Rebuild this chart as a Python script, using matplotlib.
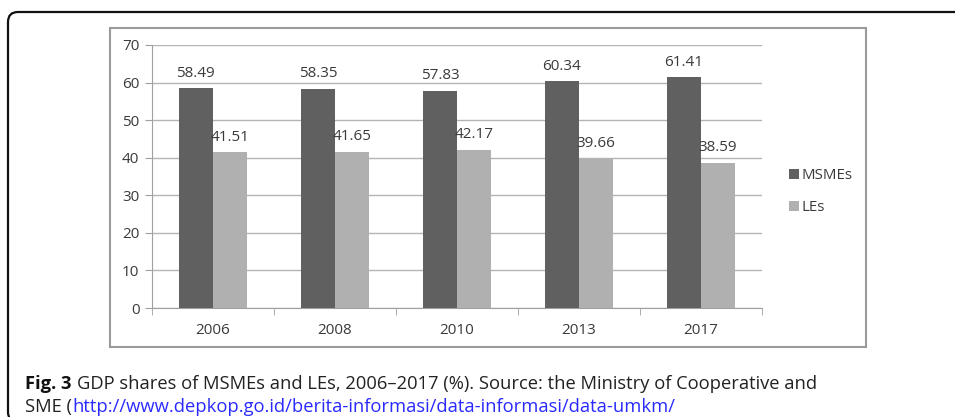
import numpy as np
import matplotlib as mpl
mpl.use('Agg')
import matplotlib.pyplot as plt
from matplotlib.patches import FancyBboxPatch, Rectangle

years = ['2006', '2008', '2010', '2013', '2017']
msmes = [58.49, 58.35, 57.83, 60.34, 61.41]
les = [41.51, 41.65, 42.17, 39.66, 38.59]
yticks = [0, 10, 20, 30, 40, 50, 60, 70]

plt.rcParams['font.family'] = ['Open Sans', 'DejaVu Sans']

fig = plt.figure(figsize=(9.55, 4.17), dpi=100)
W, H = 955.0, 417.0

# outer rounded box (runs off the right and bottom edge), in inches
fig.patches.append(FancyBboxPatch((0.08, -0.05), 12, 4.17 - 0.12 + 0.05,
                                  boxstyle='round,pad=0,rounding_size=0.1',
                                  transform=fig.dpi_scale_trans, fill=False,
                                  ec='#111111', lw=1.6))
# chart frame
fig.patches.append(Rectangle((110 / W, 1 - 347 / H), (866 - 110) / W, (347 - 28) / H,
                             transform=fig.transFigure, fill=False,
                             ec='#9a9a9a', lw=1.5))

ax = fig.add_axes([152 / W, 1 - 308 / H, (762 - 152) / W, (308 - 45) / H])
x = np.arange(len(years))
w = 0.28
b1 = ax.bar(x - w / 2, msmes, w, color='#606060', label='MSMEs', zorder=3)
b2 = ax.bar(x + w / 2, les, w, color='#b0b0b0', label='LEs', zorder=3)

for bars, vals in ((b1, msmes), (b2, les)):
    for r, v in zip(bars, vals):
        ax.text(r.get_x() + r.get_width() / 2, v + 2.0, f'{v:.2f}',
                ha='center', va='bottom', fontsize=11, color='#3a3a3a')

ax.set_xlim(-0.5, len(years) - 0.5)
ax.set_ylim(0, 70)
ax.set_yticks(yticks)
ax.set_xticks(x)
ax.set_xticklabels(years)
ax.set_xticks(np.arange(-0.5, len(years), 1.0), minor=True)
ax.tick_params(axis='x', which='major', length=0, pad=11, labelsize=11, labelcolor='#3a3a3a')
ax.tick_params(axis='x', which='minor', length=5, color='#a0a0a0', direction='out')
ax.tick_params(axis='y', length=5, color='#a0a0a0', pad=4, labelsize=11, labelcolor='#3a3a3a')
ax.grid(axis='y', color='#b4b4b4', lw=1.0, zorder=0)
for s in ('top', 'right'):
    ax.spines[s].set_visible(False)
ax.spines['left'].set_color('#a0a0a0')
ax.spines['bottom'].set_color('#a0a0a0')

leg = ax.legend(loc='upper left', bbox_to_anchor=(783 / W, 1 - 162 / H),
                bbox_transform=fig.transFigure, frameon=False, fontsize=10.8,
                handlelength=0.65, handleheight=0.65, handletextpad=0.2,
                labelspacing=1.15, borderaxespad=0)
for t in leg.get_texts():
    t.set_color('#3a3a3a')

# caption, pieces chained one after another
fs = 13.2
renderer = fig.canvas.get_renderer()

def chain(xpx, ypx, s, **kw):
    t = fig.text(xpx / W, 1 - ypx / H, s, fontsize=fs, va='center', ha='left', **kw)
    bb = t.get_window_extent(renderer)
    return bb.x1

xe = chain(25, 384, 'Fig. 3', fontweight='bold', color='#111111')
chain(xe + 5, 384, 'GDP shares of MSMEs and LEs, 2006\u20132017 (%). Source: the Ministry of Cooperative and',
      color='#222222')
xe = chain(25, 407, 'SME (', color='#222222')
chain(xe, 407, 'http://www.depkop.go.id/berita-informasi/data-informasi/data-umkm/', color='#2a2aff')

fig.savefig('out.png', dpi=100)
